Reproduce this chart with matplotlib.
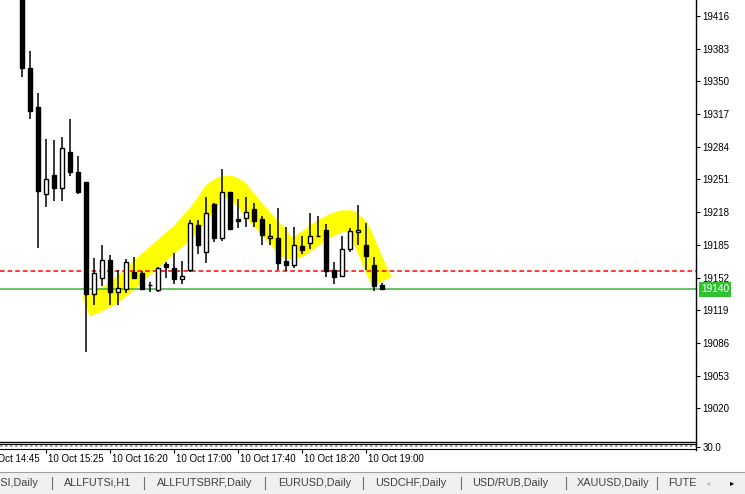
import matplotlib
matplotlib.use('Agg')
import matplotlib.pyplot as plt
import matplotlib.transforms as mtransforms
from matplotlib.patches import Rectangle
from matplotlib.lines import Line2D

# 5 minute bars
opens = [19450, 19364, 19324, 19236, 19256, 19242, 19279, 19259, 19248, 19135,
         19152, 19170, 19137, 19140, 19158, 19157, 19144, 19139, 19166, 19162,
         19151, 19160, 19205, 19178, 19226, 19192, 19238, 19211, 19212, 19221,
         19211, 19192, 19192, 19169, 19165, 19184, 19187, 19194, 19200, 19160,
         19154, 19181, 19198, 19185, 19165, 19144]
highs = [19462, 19381, 19338, 19292, 19291, 19294, 19312, 19275, 19248, 19172,
         19185, 19175, 19160, 19171, 19173, 19159, 19148, 19163, 19168, 19177,
         19169, 19210, 19210, 19233, 19227, 19262, 19238, 19231, 19233, 19227,
         19214, 19206, 19222, 19203, 19203, 19194, 19217, 19214, 19206, 19168,
         19194, 19202, 19225, 19207, 19173, 19147]
lows = [19354, 19312, 19182, 19223, 19229, 19229, 19255, 19236, 19077, 19124,
        19143, 19124, 19124, 19136, 19151, 19139, 19137, 19137, 19152, 19146,
        19145, 19158, 19176, 19167, 19188, 19189, 19201, 19202, 19203, 19203,
        19185, 19185, 19160, 19159, 19162, 19176, 19181, 19193, 19153, 19146,
        19153, 19178, 19185, 19160, 19138, 19140]
closes = [19364, 19320, 19239, 19251, 19242, 19283, 19259, 19238, 19135, 19157,
          19170, 19137, 19141, 19168, 19152, 19140, 19144, 19162, 19163, 19151,
          19154, 19207, 19185, 19217, 19192, 19238, 19201, 19209, 19218, 19209,
          19195, 19194, 19167, 19165, 19185, 19180, 19194, 19194, 19159, 19153,
          19181, 19199, 19200, 19174, 19143, 19140]

# smoothed indicator (thick yellow line), starts at bar 8
band_start = 8
band = [19123, 19126, 19130, 19134, 19140, 19147, 19154, 19162, 19169, 19176,
        19183, 19190, 19197, 19206, 19215, 19226, 19238, 19243, 19244, 19240,
        19230, 19220, 19211, 19202, 19193, 19183, 19181, 19185, 19191, 19197,
        19202, 19206, 19209, 19209, 19202, 19185, 19165, 19148]

level = 19159  # red dashed level
price_ticks = [19020, 19053, 19086, 19119, 19152, 19185, 19218, 19251, 19284,
               19317, 19350, 19383, 19416]
time_pos = [-5, 3, 11, 19, 27, 35, 43]
time_labels = ['10 Oct 14:45', '10 Oct 15:25', '10 Oct 16:20', '10 Oct 17:00',
               '10 Oct 17:40', '10 Oct 18:20', '10 Oct 19:00']
tabs = ['RTSI,Daily', 'ALLFUTSi,H1', 'ALLFUTSBRF,Daily', 'EURUSD,Daily',
        'USDCHF,Daily', 'USD/RUB,Daily', 'XAUUSD,Daily', 'FUTE']

plt.rcParams['font.family'] = ['Liberation Sans', 'DejaVu Sans']

W, H = 745, 494
fig = plt.figure(figsize=(W / 100, H / 100), dpi=100)
fig.patch.set_facecolor('white')


def fx(x):
    return x / W


def fy(y):
    return 1 - y / H


ax = fig.add_axes([0, fy(442), fx(696), 442 / H])
ax.set_xlim(-2.75, 84.25)
ax.set_ylim(18986.0, 19432.2)
for s in ['left', 'top', 'right']:
    ax.spines[s].set_visible(False)
ax.spines['bottom'].set_linewidth(1.0)
ax.set_xticks([])
ax.yaxis.tick_right()
ax.set_yticks(price_ticks)
ax.set_yticklabels([str(p) for p in price_ticks])
ax.tick_params(axis='y', direction='out', length=3, width=0.8, pad=1.5, labelsize=7)

idx = list(range(len(opens)))

# yellow indicator
ax.plot(range(band_start, band_start + len(band)), band, color='#ffff00',
        lw=15.5, solid_capstyle='butt', solid_joinstyle='round', zorder=1)

# level lines
ax.axhline(level, color='#ff0000', lw=1.1, dashes=(3, 2), zorder=2)
ax.axhline(closes[-1], color='#3cb43c', lw=1.1, zorder=2)

# candles
ax.vlines(idx, lows, highs, color='black', lw=1.1, zorder=3)
for i in idx:
    o, c = opens[i], closes[i]
    face = 'white' if c >= o else 'black'
    ax.bar(i, c - o, bottom=o, width=0.62, color=face, edgecolor='black',
           linewidth=1.0, zorder=4)

# small indicator subwindow
sub = fig.add_axes([0, fy(449.3), fx(696), (449.3 - 444) / H])
sub.set_xlim(ax.get_xlim())
sub.set_ylim(0, 1)
sub.spines['left'].set_visible(False)
sub.spines['right'].set_visible(False)
sub.axhline(0.55, color='#909090', lw=1.2, dashes=(1.5, 1.5))
sub.yaxis.tick_right()
sub.set_yticks([0.45])
sub.set_yticklabels(['30.0'])
sub.tick_params(axis='y', direction='out', length=3, width=0.8, pad=1.5, labelsize=7)
sub.set_xticks([p for p in time_pos if p > -2.75])
sub.set_xticklabels([])
sub.tick_params(axis='x', direction='out', length=3, width=0.8)

# right price axis line
fig.add_artist(Line2D([fx(696), fx(696)], [fy(0), fy(450)], color='black', lw=1.0))

# time labels
trans = mtransforms.blended_transform_factory(sub.transData, fig.transFigure)
trans = mtransforms.offset_copy(trans, fig=fig, x=1.5, y=0, units='dots')
for p, lab in zip(time_pos, time_labels):
    fig.text(p, fy(458.5), lab, transform=trans, ha='left', va='center', fontsize=7)

# current price label
ptrans = mtransforms.blended_transform_factory(fig.transFigure, ax.transData)
ax.text(fx(701), closes[-1], f'{closes[-1]:.0f}', transform=ptrans, color='white',
        fontsize=7.3, ha='left', va='center', clip_on=False, zorder=10,
        bbox=dict(boxstyle='square,pad=0.22', facecolor='#2fc32f', edgecolor='none'))

# tab bar
fig.add_artist(Rectangle((0, 0), 1, fy(471.5), transform=fig.transFigure,
                         facecolor='#f0f0f0', edgecolor='none'))
fig.add_artist(Line2D([0, 1], [fy(471.5), fy(471.5)], color='#a0a0a0', lw=0.8))
tab_x = [38, 64, 157, 278, 375, 472, 577, 668]
sep_x = [51.7, 144.3, 265, 362.7, 461, 565.7, 656.7]
for i, (t, x) in enumerate(zip(tabs, tab_x)):
    fig.text(fx(x), fy(482.5), t, ha='right' if i == 0 else 'left', va='center',
             fontsize=7.8, color='#404040')
for x in sep_x:
    fig.add_artist(Line2D([fx(x), fx(x)], [fy(476.5), fy(488.5)], color='#707070', lw=0.8))
fig.text(fx(708), fy(482.5), '\u25c2', ha='center', va='center', fontsize=6,
         color='#c0c0c0', family='DejaVu Sans')
fig.text(fx(732), fy(482.5), '\u25b8', ha='center', va='center', fontsize=6,
         color='#000000', family='DejaVu Sans')

fig.savefig('out.png', dpi=100)
